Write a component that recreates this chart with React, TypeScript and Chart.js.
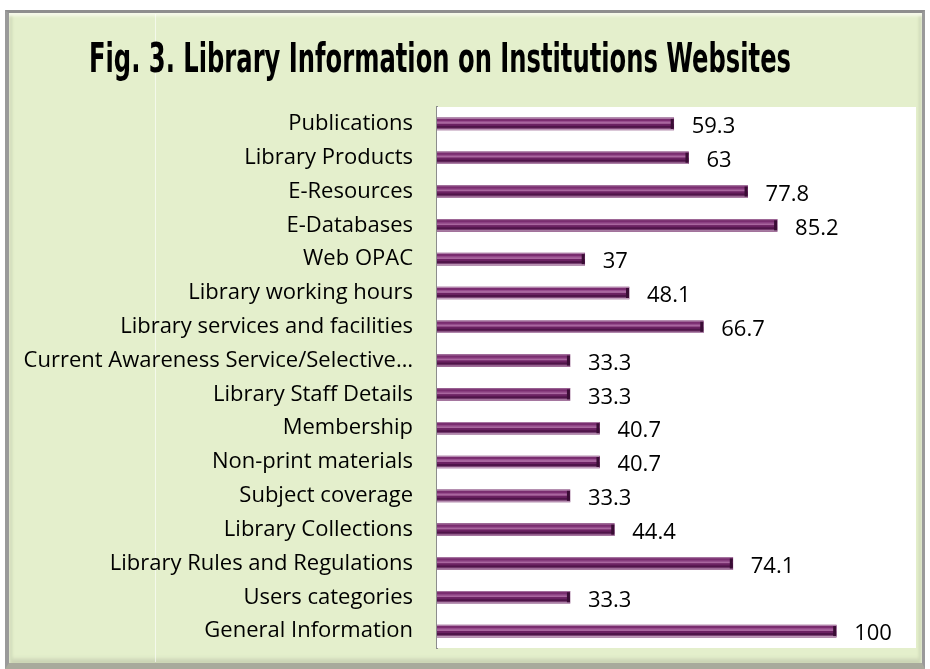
import React, { useEffect, useRef } from "react";
import { Chart, registerables } from "chart.js";

Chart.register(...registerables);

const titleText = "Fig. 3. Library Information on Institutions Websites";

const categories = [
  "Publications",
  "Library Products",
  "E-Resources",
  "E-Databases",
  "Web OPAC",
  "Library working hours",
  "Library services and facilities",
  "Current Awareness Service/Selective…",
  "Library Staff Details",
  "Membership",
  "Non-print materials",
  "Subject coverage",
  "Library Collections",
  "Library Rules and Regulations",
  "Users categories",
  "General Information",
];

const values = [59.3, 63, 77.8, 85.2, 37, 48.1, 66.7, 33.3, 33.3, 40.7, 40.7, 33.3, 44.4, 74.1, 33.3, 100];

const valueLabels = ["59.3", "63", "77.8", "85.2", "37", "48.1", "66.7", "33.3", "33.3", "40.7", "40.7", "33.3", "44.4", "74.1", "33.3", "100"];

const LABEL_FONT = "'Open Sans', Lato, sans-serif";

export default function App() {
  const canvasRef = useRef<HTMLCanvasElement | null>(null);

  useEffect(() => {
    const canvas = canvasRef.current;
    if (!canvas) return;

    const plotBg = {
      id: "plotBg",
      beforeDatasetsDraw(chart: any) {
        const { ctx, chartArea } = chart;
        ctx.save();
        ctx.fillStyle = "#ffffff";
        ctx.fillRect(chartArea.left, chartArea.top, chartArea.right - chartArea.left, chartArea.bottom - chartArea.top);
        ctx.restore();
      },
    };

    const titlePlugin = {
      id: "fancyTitle",
      afterDraw(chart: any) {
        const ctx = chart.ctx;
        ctx.save();
        ctx.font = "bold 40px 'DejaVu Sans Condensed', 'DejaVu Sans', sans-serif";
        const w = ctx.measureText(titleText).width;
        const targetW = 702;
        const sx = targetW / w;
        ctx.translate(440, 72);
        ctx.scale(sx, 1);
        ctx.fillStyle = "#000000";
        ctx.textAlign = "center";
        ctx.textBaseline = "alphabetic";
        ctx.fillText(titleText, 0, 0);
        ctx.restore();
      },
    };

    const barStyle = {
      id: "barStyle",
      afterDatasetsDraw(chart: any) {
        const { ctx } = chart;
        const meta = chart.getDatasetMeta(0);
        ctx.save();
        meta.data.forEach((el: any) => {
          const x0 = el.base;
          const x1 = el.x;
          const h = el.height;
          const top = el.y - h / 2;
          const w = x1 - x0;
          const band = (y: number, hh: number, c: string) => {
            ctx.fillStyle = c;
            ctx.fillRect(x0, top + y, w, hh);
          };
          band(0, 1, "#b88cb2");
          band(1, 2, "#7a2d70");
          band(3, 1, "#9a4f90");
          band(4, 2, "#a9669f");
          band(6, 2, "#6b2262");
          band(8, 2, "#4f1549");
          band(10, 1, "#7e4a78");
          band(11, 1, "#c4a3c0");
          ctx.fillStyle = "#3a0d35";
          ctx.fillRect(x1 - 3, top + 1, 3, h - 2);
        });
        ctx.restore();
      },
    };

    const valueLabelPlugin = {
      id: "valueLabels",
      afterDatasetsDraw(chart: any) {
        const { ctx } = chart;
        const meta = chart.getDatasetMeta(0);
        ctx.save();
        ctx.font = `22px ${LABEL_FONT}`;
        ctx.fillStyle = "#000000";
        ctx.textAlign = "left";
        ctx.textBaseline = "middle";
        meta.data.forEach((el: any, i: number) => {
          ctx.fillText(valueLabels[i], el.x + 18, el.y + 3);
        });
        ctx.restore();
      },
    };

    const chart = new Chart(canvas, {
      type: "bar",
      data: {
        labels: categories,
        datasets: [
          {
            data: values,
            backgroundColor: "#6b2262",
            borderWidth: 0,
            barThickness: 12,
          },
        ],
      },
      options: {
        indexAxis: "y",
        animation: false,
        responsive: false,
        maintainAspectRatio: false,
        layout: { padding: { top: 107, bottom: 21, right: 14, left: 0 } },
        plugins: {
          legend: { display: false },
          title: { display: false },
          tooltip: { enabled: false },
        },
        scales: {
          x: {
            display: false,
            min: 0,
            max: 120,
          },
          y: {
            grid: { display: false, drawTicks: false },
            border: { display: true, color: "#8c8c8c", width: 2 },
            ticks: {
              color: "#000000",
              font: { family: LABEL_FONT, size: 22 },
              padding: 24,
              autoSkip: false,
            },
            afterFit(scale: any) {
              scale.width = 437;
              scale.paddingTop = 0;
              scale.paddingBottom = 0;
            },
          },
        },
      },
      plugins: [plotBg, barStyle, valueLabelPlugin, titlePlugin],
    });

    return () => chart.destroy();
  }, []);

  return (
    <div style={{ position: "fixed", left: 0, top: 0, width: 930, height: 669, background: "#ffffff", overflow: "hidden" }}>
      <div
        style={{
          position: "absolute",
          left: 5,
          top: 10,
          width: 920,
          height: 659,
          boxSizing: "border-box",
          background: "#e4efcc",
          borderTop: "3px solid #8e8e8e",
          borderLeft: "4px solid #9a9a9a",
          borderRight: "3px solid #9a9a9a",
          borderBottom: "6px solid #a8aa9c",
          boxShadow: "inset 0 3px 3px #f6faea, inset 3px 0 3px #d0dab8, inset -3px 0 3px #d0dab8, inset 0 -4px 4px #c9d2b4",
        }}
      />
      <div style={{ position: "absolute", left: 155, top: 14, width: 1, height: 648, background: "rgba(255,255,255,0.6)" }} />
      <canvas ref={canvasRef} width={930} height={669} style={{ position: "absolute", left: 0, top: 0, width: 930, height: 669 }} />
    </div>
  );
}
